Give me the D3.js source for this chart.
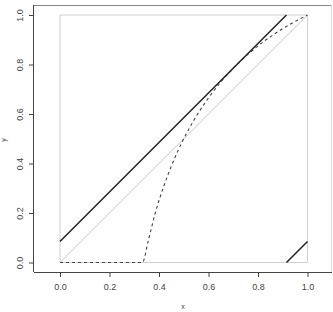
<!DOCTYPE html>
<html>
<head>
<meta charset="utf-8">
<script src="https://cdn.jsdelivr.net/npm/d3@7"></script>
<style>
  body { margin: 0; background: #fff; }
  svg text { font-family: "Liberation Sans", Arial, sans-serif; fill: #444; }
</style>
</head>
<body>
<svg id="chart" width="333" height="312"></svg>
<script>
// values
const xTicks = [0, 0.2, 0.4, 0.6, 0.8, 1.0];
const yTicks = [0, 0.2, 0.4, 0.6, 0.8, 1.0];
const diagonal = [[0, 0], [1, 1]];
const unitBox = [[0, 0], [1, 0], [1, 1], [0, 1], [0, 0]];
const shiftedUpper = [[0, 0.085], [0.915, 1]];
const shiftedLower = [[0.915, 0], [1, 0.085]];
const dashedCurve = [
    [0, 0], [0.333, 0], [0.357, 0.09], [0.385, 0.2], [0.42, 0.31], [0.45, 0.39],
    [0.5, 0.5], [0.55, 0.59], [0.6, 0.665], [0.7, 0.785], [0.8, 0.875], [0.9, 0.945], [1, 1]
];

const svg = d3.select('#chart');

const x = d3.scaleLinear().domain([0, 1]).range([60, 307.5]);
const y = d3.scaleLinear().domain([0, 1]).range([262.5, 15]);

const frame = { left: 34, right: 332, top: 5, bottom: 272 };

const line = d3.line().x(d => x(d[0])).y(d => y(d[1]));

// light grey unit square and diagonal
svg.append('path').attr('d', line(unitBox))
    .attr('fill', 'none').attr('stroke', '#cfcfcf').attr('stroke-width', 1);
svg.append('path').attr('d', line(diagonal))
    .attr('fill', 'none').attr('stroke', '#c4c4c4').attr('stroke-width', 1);

// dashed curve
const curveLine = d3.line().x(d => x(d[0])).y(d => y(d[1])).curve(d3.curveMonotoneX);
svg.append('path').attr('d', curveLine(dashedCurve))
    .attr('fill', 'none').attr('stroke', '#444').attr('stroke-width', 1.1)
    .attr('stroke-dasharray', '3,3');

// solid black shifted line
[shiftedUpper, shiftedLower].forEach(seg => {
    svg.append('path').attr('d', line(seg))
        .attr('fill', 'none').attr('stroke', '#222').attr('stroke-width', 1.5);
});

// frame
svg.append('line').attr('x1', frame.left).attr('x2', frame.right)
    .attr('y1', frame.top + 0.5).attr('y2', frame.top + 0.5)
    .attr('stroke', '#888');
svg.append('line').attr('x1', frame.right - 0.5).attr('x2', frame.right - 0.5)
    .attr('y1', frame.top).attr('y2', frame.bottom)
    .attr('stroke', '#ddd');

// axes
const xAxis = d3.axisBottom(x).tickValues(xTicks).tickFormat(d3.format('.1f')).tickSize(5).tickPadding(7);
const gx = svg.append('g').attr('transform', `translate(0,${frame.bottom})`).call(xAxis);
gx.select('.domain').attr('d', `M${frame.left},0.5H${frame.right}`).attr('stroke', '#444');
gx.selectAll('.tick line').attr('stroke', '#444');
gx.selectAll('text').attr('font-size', 9).style('fill', '#444');

const yAxis = d3.axisLeft(y).tickValues(yTicks).tickFormat(d3.format('.1f')).tickSize(5).tickPadding(0);
const gy = svg.append('g').attr('transform', `translate(${frame.left},0)`).call(yAxis);
gy.select('.domain').attr('d', `M-0.5,${frame.top}V${frame.bottom}`).attr('stroke', '#444');
gy.selectAll('.tick line').attr('stroke', '#444');
gy.selectAll('text')
    .attr('font-size', 9).style('fill', '#444')
    .attr('x', 0).attr('dy', 0)
    .attr('text-anchor', 'middle')
    .attr('transform', 'translate(-14,0) rotate(-90)')
    .attr('dominant-baseline', 'central');

// axis titles
svg.append('text').attr('x', 183).attr('y', 309).attr('text-anchor', 'middle')
    .attr('font-size', 7).text('x');
svg.append('text').attr('transform', 'translate(6,140) rotate(-90)').attr('text-anchor', 'middle')
    .attr('font-size', 7).text('y');
</script>
</body>
</html>
